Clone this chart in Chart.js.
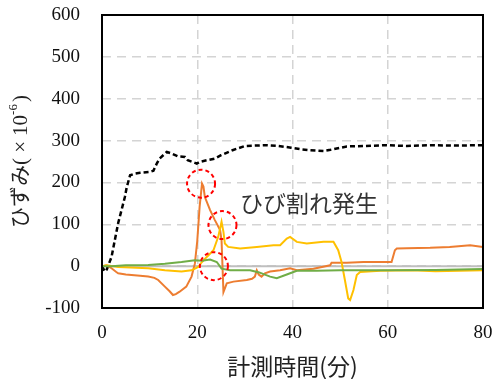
<!DOCTYPE html>
<html>
<head>
<meta charset="utf-8">
<script src="https://cdn.jsdelivr.net/npm/chart.js@4/dist/chart.umd.min.js"></script>
<style>
  html, body { margin: 0; padding: 0; background: #fff; }
  #wrap { width: 492px; height: 379px; position: relative; }
</style>
</head>
<body>
<div id="wrap"><canvas id="c"></canvas></div>
<script>
// Strain history (×10^-6) against elapsed measuring time (minutes)

// Dashed black gauge
const blackT = [0, 0.6, 1.0, 2.0, 3.4, 4.8, 5.2, 5.9, 6.9, 8, 10, 10.8, 11.5, 12.1, 13.6, 14.6, 16, 17.4, 18, 19.9, 20.5, 22, 23.7, 25, 27.4, 30, 34.2, 37, 39.7, 42, 43.7, 46.5, 48, 51.4, 55, 59.8, 64, 68.9, 74, 80];
const blackV = [0, -13, -8, 22, 103, 165, 189, 217, 221, 223, 225, 228, 245, 257, 273, 269, 262, 261, 253, 245, 249, 253, 257, 265, 277, 287, 289, 287, 283, 279, 277, 275, 278, 286, 287, 289, 287, 289, 288, 289];

// Orange gauge
const orangeT = [0, 1, 2, 3, 3.4, 5, 6.2, 8, 9.7, 11, 11.8, 13.2, 14.2, 14.9, 15.5, 16.3, 17.7, 18.8, 19.5, 20, 20.5, 21.0, 21.3, 21.6, 22.7, 23.7, 24.8, 25.1, 25.5, 26.2, 27.6, 30.4, 31.5, 32.1, 32.5, 32.9, 33.5, 34.2, 35.3, 37.4, 39.5, 40.9, 44.4, 47.9, 48.2, 51.4, 54.9, 58.4, 60.8, 61.5, 61.9, 64, 68.9, 73, 77.3, 80];
const orangeV = [0, 2, -5, -14, -17, -20, -21, -23, -25, -28, -33, -49, -60, -69, -67, -61, -49, -25, 6, 60, 142, 197, 190, 165, 134, 110, 86, 62, -62, -41, -37, -33, -30, -25, -10, -20, -25, -17, -13, -10, -5, -10, -6, 2, 8, 8, 10, 10, 10, 38, 42, 43, 44, 46, 50, 46];

// Yellow gauge
const yellowT = [0, 1, 3.4, 6, 9.7, 13.2, 16.7, 18.8, 20.2, 21, 22, 23.4, 24.4, 25.1, 25.5, 25.8, 26.5, 29, 32.5, 36, 37.4, 38.8, 39.5, 40.9, 43, 46.5, 48.6, 49.6, 50.3, 51, 51.7, 52.1, 52.8, 53.5, 54.2, 58.4, 65, 70, 75, 80];
const yellowV = [0, 2, -2, -3, -5, -10, -13, -10, -2, 10, 22, 38, 70, 106, 82, 54, 46, 42, 46, 50, 50, 66, 70, 58, 54, 58, 58, 38, 10, -33, -77, -81, -57, -21, -14, -11, -10, -12, -11, -10];

// Green gauge
const greenT = [0, 2, 5, 9.7, 13.2, 16.7, 19.5, 21, 22.7, 24.1, 25.1, 26.9, 31.1, 33, 35.3, 36.7, 38.8, 39.5, 40.9, 45, 50, 60, 70, 80];
const greenV = [0, 0, 2, 3, 6, 10, 14, 13, 16, 10, -6, -10, -10, -15, -25, -29, -20, -17, -11, -11, -10, -10, -9, -7];

// Axis ticks
const xTicks = [0, 20, 40, 60, 80];
const yTicks = [-100, 0, 100, 200, 300, 400, 500, 600];

// Crack markers (time, strain) and the note beside them
const crackT = [20.8, 25.3, 23.5];
const crackV = [197, 98, 0];
const noteText = 'ひび割れ発生';
const noteAt = [29, 150];

const xTitle = '計測時間(分)';
// y title pieces: kana + "(", multiplication sign, "10", superscript exponent, ")"
const yTitleParts = ['ひずみ(', '×', '10', '-6', ')'];

const pts = (t, v) => t.map((x, i) => ({ x, y: v[i] }));

const frame = {
  id: 'frame',
  beforeDatasetsDraw(chart) {
    const { ctx, scales: { x, y } } = chart;
    // solid zero line
    ctx.save();
    ctx.strokeStyle = '#BFBFBF';
    ctx.lineWidth = 2;
    ctx.beginPath();
    ctx.moveTo(x.getPixelForValue(0), y.getPixelForValue(0));
    ctx.lineTo(x.getPixelForValue(80), y.getPixelForValue(0));
    ctx.stroke();
    ctx.restore();
  },
  afterDatasetsDraw(chart) {
    const { ctx, chartArea: a, scales: { x, y } } = chart;
    ctx.save();
    // dashed red rings around the crack events
    ctx.strokeStyle = '#FF0000';
    ctx.lineWidth = 2;
    ctx.setLineDash([4, 3]);
    crackT.forEach((t, i) => {
      ctx.beginPath();
      ctx.arc(x.getPixelForValue(t), y.getPixelForValue(crackV[i]), 14, 0, Math.PI * 2);
      ctx.stroke();
    });
    ctx.setLineDash([]);
    // plot frame
    ctx.strokeStyle = '#000';
    ctx.lineWidth = 2;
    ctx.strokeRect(a.left, a.top, a.right - a.left, a.bottom - a.top);
    // note text
    ctx.fillStyle = '#333';
    ctx.font = "23px 'Noto Sans CJK JP'";
    ctx.textAlign = 'left';
    ctx.textBaseline = 'middle';
    ctx.fillText(noteText, x.getPixelForValue(noteAt[0]), y.getPixelForValue(noteAt[1]));
    // x axis title
    ctx.fillStyle = '#222';
    ctx.font = "23px 'Noto Sans CJK JP'";
    ctx.textAlign = 'center';
    ctx.fillText(xTitle, (a.left + a.right) / 2, 366);
    // y axis title, rotated, with superscript exponent
    const fonts = [
      "21px 'Liberation Serif','Noto Sans CJK JP'",
      "21px 'Liberation Serif'",
      "21px 'Liberation Serif'",
      "13px 'Liberation Serif'",
      "21px 'Liberation Serif'"
    ];
    const rise = [0, 0, 0, -7, 0];
    const widths = yTitleParts.map((s, i) => {
      ctx.font = fonts[i];
      const w = ctx.measureText(s).width;
      return i === 1 ? 22 : w + (i === 3 ? 2 : 0);
    });
    const total = widths.reduce((p, w) => p + w, 0);
    ctx.translate(21, (a.top + a.bottom) / 2);
    ctx.rotate(-Math.PI / 2);
    let px = -total / 2;
    yTitleParts.forEach((s, i) => {
      ctx.font = fonts[i];
      ctx.textAlign = i === 1 ? 'center' : 'left';
      ctx.fillText(s, i === 1 ? px + widths[i] / 2 : px, rise[i]);
      px += widths[i];
    });
    ctx.restore();
  }
};

const line = (data, color, extra) => Object.assign({
  data, borderColor: color, borderWidth: 2, pointRadius: 0, tension: 0, fill: false
}, extra || {});

new Chart(document.getElementById('c'), {
  type: 'line',
  data: {
    datasets: [
      line(pts(greenT, greenV), '#70AD47'),
      line(pts(yellowT, yellowV), '#FFC000'),
      line(pts(orangeT, orangeV), '#ED7D31'),
      line(pts(blackT, blackV), '#000000', { borderWidth: 2.5, borderDash: [5, 3] })
    ]
  },
  options: {
    responsive: true,
    maintainAspectRatio: false,
    animation: false,
    events: [],
    layout: { padding: { top: 15, right: 9, bottom: 0, left: 0 } },
    plugins: { legend: { display: false }, tooltip: { enabled: false } },
    scales: {
      x: {
        type: 'linear', min: 0, max: 80,
        afterBuildTicks: s => { s.ticks = xTicks.map(v => ({ value: v })); },
        afterFit: s => { s.height = 71; s.paddingLeft = 0; s.paddingRight = 0; },
        grid: { color: '#D4D4D4', lineWidth: 1.5, drawTicks: false },
        border: { display: false, dash: [9, 6] },
        ticks: { padding: 14, color: '#111', font: { family: "'Liberation Serif'", size: 19 }, maxRotation: 0 }
      },
      y: {
        type: 'linear', min: -100, max: 600,
        afterBuildTicks: s => { s.ticks = yTicks.map(v => ({ value: v })); },
        afterFit: s => { s.width = 102; s.paddingTop = 0; s.paddingBottom = 0; },
        grid: { color: '#D4D4D4', lineWidth: 1.5, drawTicks: false },
        border: { display: false, dash: [9, 6] },
        ticks: { padding: 22, color: '#111', font: { family: "'Liberation Serif'", size: 19 } }
      }
    }
  },
  plugins: [frame]
});
</script>
</body>
</html>
